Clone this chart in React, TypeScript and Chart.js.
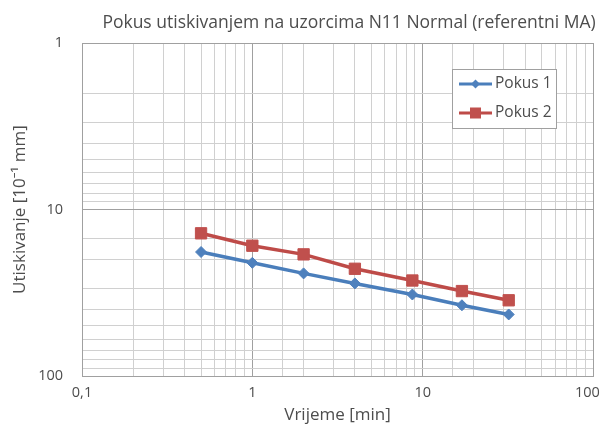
import React, { useEffect, useRef } from 'react';
import { Chart, registerables } from 'chart.js';

Chart.register(...registerables);

const chartTitle = 'Pokus utiskivanjem na uzorcima N11 Normal (referentni MA)';
const xAxisTitle = 'Vrijeme [min]';
const yAxisTitle = 'Utiskivanje [10⁻¹ mm]';
const seriesNames = ['Pokus 1', 'Pokus 2'];

const pokus1Time = [0.5, 1, 2, 4, 8.7, 17, 32];
const pokus1Value = [18.0, 20.9, 24.2, 27.8, 32.4, 37.6, 42.7];
const pokus2Time = [0.5, 1, 2, 4, 8.7, 17, 32];
const pokus2Value = [13.9, 16.5, 18.6, 22.7, 26.7, 30.9, 35.1];

const xDecades = [0.1, 1, 10, 100];
const xTickLabels = ['0,1', '1', '10', '100   '];
const yDecades = [1, 10, 100];
const yTickLabels = ['1', '10', '100'];

const FONT = "'Open Sans', 'Noto Sans', sans-serif";
const TEXT = '#4d4d4d';
const MAJOR = '#a0a0a0';
const MINOR = '#d0d0d0';
const BLUE_LINE = '#4a7ebb';
const BLUE_FILL = '#4f81bd';
const RED_LINE = '#be4b48';
const RED_FILL = '#c0504d';

const findDecade = (v: number, decades: number[]) =>
  decades.findIndex((d) => Math.abs(v / d - 1) < 1e-6);

export default function App() {
  const ref = useRef<HTMLCanvasElement>(null);

  useEffect(() => {
    if (!ref.current) return;
    const decorPlugin = {
      id: 'customDecor',
      afterDraw(chart: any) {
        const ctx = chart.ctx;
        ctx.save();
        // title
        ctx.fillStyle = TEXT;
        ctx.font = `17.5px ${FONT}`;
        ctx.textAlign = 'center';
        ctx.textBaseline = 'alphabetic';
        ctx.fillText(chartTitle, 349, 28);
        // legend box
        const bx = 452, by = 69, bw = 104, bh = 59;
        ctx.fillStyle = '#ffffff';
        ctx.fillRect(bx, by, bw, bh);
        ctx.strokeStyle = MAJOR;
        ctx.lineWidth = 1;
        ctx.strokeRect(bx + 0.5, by + 0.5, bw, bh);
        const items = [
          { y: 84, line: BLUE_LINE, fill: BLUE_FILL, shape: 'diamond' },
          { y: 113, line: RED_LINE, fill: RED_FILL, shape: 'square' },
        ];
        items.forEach((it, i) => {
          ctx.strokeStyle = it.line;
          ctx.lineWidth = 3;
          ctx.beginPath();
          ctx.moveTo(459, it.y);
          ctx.lineTo(492, it.y);
          ctx.stroke();
          ctx.fillStyle = it.fill;
          const cx = 475.5;
          if (it.shape === 'diamond') {
            ctx.beginPath();
            ctx.moveTo(cx, it.y - 4.5);
            ctx.lineTo(cx + 4.5, it.y);
            ctx.lineTo(cx, it.y + 4.5);
            ctx.lineTo(cx - 4.5, it.y);
            ctx.closePath();
            ctx.fill();
          } else {
            ctx.fillRect(cx - 5.5, it.y - 5.5, 11, 11);
          }
          ctx.fillStyle = TEXT;
          ctx.font = `15.5px ${FONT}`;
          ctx.textAlign = 'left';
          ctx.textBaseline = 'middle';
          ctx.fillText(seriesNames[i], 495, it.y);
        });
        ctx.restore();
      },
    };

    const chart = new Chart(ref.current, {
      type: 'line',
      data: {
        datasets: [
          {
            label: seriesNames[0],
            data: pokus1Time.map((t, i) => ({ x: t, y: pokus1Value[i] })),
            borderColor: BLUE_LINE,
            backgroundColor: BLUE_FILL,
            borderWidth: 3.5,
            pointStyle: 'rectRot',
            pointRadius: 5.5,
            pointBackgroundColor: BLUE_FILL,
            pointBorderColor: BLUE_FILL,
            pointBorderWidth: 1,
            tension: 0,
          },
          {
            label: seriesNames[1],
            data: pokus2Time.map((t, i) => ({ x: t, y: pokus2Value[i] })),
            borderColor: RED_LINE,
            backgroundColor: RED_FILL,
            borderWidth: 3.5,
            pointStyle: 'rect',
            pointRadius: 8,
            pointBackgroundColor: RED_FILL,
            pointBorderColor: RED_FILL,
            pointBorderWidth: 1,
            tension: 0,
          },
        ],
      },
      options: {
        responsive: false,
        animation: false,
        layout: { padding: { left: 0, top: 43, right: 7, bottom: 0 } },
        plugins: {
          legend: { display: false },
          title: { display: false },
          tooltip: { enabled: false },
        },
        scales: {
          x: {
            type: 'logarithmic',
            min: 0.1,
            max: 100,
            afterFit: (s: any) => {
              s.height = 49;
              s.paddingRight = 0;
              s.paddingLeft = 0;
            },
            grid: {
              drawTicks: false,
              color: (c: any) => (findDecade(c.tick.value, xDecades) >= 0 ? MAJOR : MINOR),
              lineWidth: 1,
            },
            border: { color: MAJOR },
            ticks: {
              autoSkip: false,
              maxRotation: 0,
              minRotation: 0,
              padding: 8,
              color: TEXT,
              font: { family: FONT, size: 14.5 },
              callback: (v: any) => {
                const i = findDecade(Number(v), xDecades);
                return i >= 0 ? xTickLabels[i] : '';
              },
            },
            title: {
              display: true,
              text: xAxisTitle,
              color: TEXT,
              font: { family: FONT, size: 17 },
              padding: { top: 0, bottom: 0 },
            },
          },
          y: {
            type: 'logarithmic',
            min: 1,
            max: 100,
            reverse: true,
            afterFit: (s: any) => {
              s.width = 82;
            },
            grid: {
              drawTicks: false,
              color: (c: any) => (findDecade(c.tick.value, yDecades) >= 0 ? MAJOR : MINOR),
              lineWidth: 1,
            },
            border: { color: MAJOR },
            ticks: {
              autoSkip: false,
              padding: 19,
              color: TEXT,
              font: { family: FONT, size: 14.5 },
              callback: (v: any) => {
                const i = findDecade(Number(v), yDecades);
                return i >= 0 ? yTickLabels[i] : '';
              },
            },
            title: {
              display: true,
              text: yAxisTitle,
              color: TEXT,
              font: { family: FONT, size: 17 },
              padding: { top: 10, bottom: 0 },
            },
          },
        },
      },
      plugins: [decorPlugin],
    });
    return () => chart.destroy();
  }, []);

  return (
    <div style={{ position: 'fixed', left: 0, top: 0, width: 602, height: 425, background: '#fff' }}>
      <canvas ref={ref} width={602} height={425} />
    </div>
  );
}
